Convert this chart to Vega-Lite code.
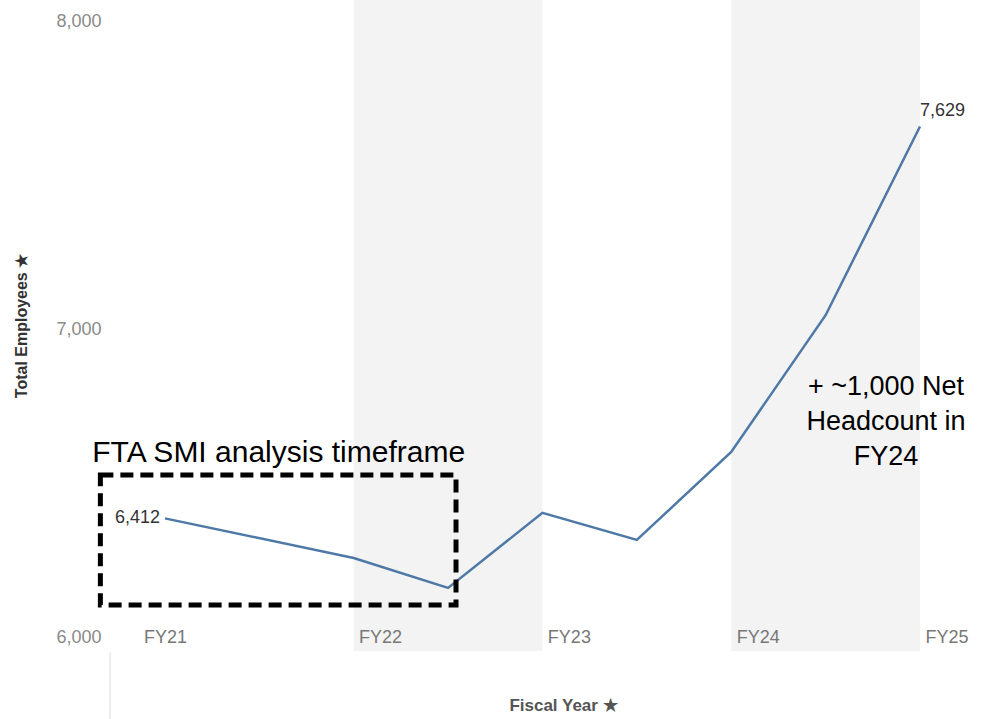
{
  "$schema": "https://vega.github.io/schema/vega-lite/v6.json",
  "width": 877,
  "height": 651,
  "autosize": {"type": "none"},
  "padding": {"left": 110, "top": 0, "right": 0, "bottom": 68},
  "background": "white",
  "config": {
    "view": {"stroke": null},
    "font": "Liberation Sans",
    "axis": {"grid": false, "domain": false, "ticks": false},
    "axisX": {
      "labelFontSize": 18, "labelColor": "#777777",
      "labelBaseline": "middle", "labelPadding": -14, "labelAlign": "center",
      "labelFlush": false, "labelOverlap": false,
      "titleFontSize": 17, "titleColor": "#555555", "titleFontWeight": "bold",
      "titlePadding": 46, "titleX": 453
    },
    "axisY": {
      "labelFontSize": 18, "labelColor": "#8a8a8a",
      "labelPadding": 9, "labelFlush": 10, "labelFlushOffset": -5, "labelOverlap": false,
      "titleFontSize": 16, "titleColor": "#333333", "titleFontWeight": "bold",
      "titlePadding": 26
    }
  },
  "datasets": {
    "headcount": [
      {"fy": 21, "employees": 6412},
      {"fy": 22, "employees": 6289},
      {"fy": 22.5, "employees": 6196},
      {"fy": 23, "employees": 6429},
      {"fy": 23.5, "employees": 6345},
      {"fy": 24, "employees": 6618},
      {"fy": 24.5, "employees": 7043},
      {"fy": 25, "employees": 7629}
    ],
    "bands": [
      {"start": 22, "end": 23},
      {"start": 24, "end": 25}
    ]
  },
  "layer": [
    {
      "data": {"name": "bands"},
      "mark": {"type": "rect", "color": "#f3f3f3"},
      "encoding": {
        "x": {
          "field": "start", "type": "quantitative",
          "scale": {"domain": [20.709, 25.355], "nice": false, "zero": false},
          "axis": {
            "values": [21, 22.14, 23.14, 24.14, 25.14],
            "labelExpr": "'FY' + floor(datum.value)",
            "title": "Fiscal Year ★",
            "zindex": 1
          }
        },
        "x2": {"field": "end"}
      }
    },
    {
      "data": {"name": "headcount"},
      "mark": {"type": "line", "color": "#4e79a7", "strokeWidth": 2.5},
      "encoding": {
        "x": {
          "field": "fy", "type": "quantitative",
          "axis": {
            "values": [21, 22.14, 23.14, 24.14, 25.14],
            "labelExpr": "'FY' + floor(datum.value)",
            "title": "Fiscal Year ★",
            "zindex": 1
          }
        },
        "y": {
          "field": "employees", "type": "quantitative",
          "scale": {"domain": [6000, 8022], "nice": false, "zero": false},
          "axis": {
            "values": [6000, 7000, 8000],
            "format": ",.0f",
            "title": "Total Employees ★"
          }
        }
      }
    },
    {
      "data": {"values": [{}]},
      "mark": {"type": "rule", "color": "#d9d9d9", "strokeWidth": 1},
      "encoding": {
        "x": {"datum": 20.709, "type": "quantitative"},
        "y": {"datum": 5995, "type": "quantitative"},
        "y2": {"datum": 5789}
      }
    },
    {
      "data": {"values": [{}]},
      "mark": {"type": "rect", "filled": false, "stroke": "black", "strokeWidth": 5, "strokeDash": [13, 7]},
      "encoding": {
        "x": {"datum": 20.658, "type": "quantitative"},
        "x2": {"datum": 22.542},
        "y": {"datum": 6546.6, "type": "quantitative"},
        "y2": {"datum": 6142.9}
      }
    },
    {
      "data": {"name": "headcount"},
      "transform": [{"filter": "datum.fy == 21"}],
      "mark": {"type": "text", "align": "right", "baseline": "middle", "dx": -5, "fontSize": 18, "color": "#333333"},
      "encoding": {
        "x": {"field": "fy", "type": "quantitative"},
        "y": {"field": "employees", "type": "quantitative"},
        "text": {"field": "employees", "type": "quantitative", "format": ","}
      }
    },
    {
      "data": {"name": "headcount"},
      "transform": [{"filter": "datum.fy == 25"}],
      "mark": {"type": "text", "align": "left", "baseline": "alphabetic", "dy": -11, "fontSize": 18, "color": "#333333"},
      "encoding": {
        "x": {"field": "fy", "type": "quantitative"},
        "y": {"field": "employees", "type": "quantitative"},
        "text": {"field": "employees", "type": "quantitative", "format": ","}
      }
    },
    {
      "data": {"values": [{}]},
      "mark": {"type": "text", "align": "left", "baseline": "alphabetic", "fontSize": 30, "color": "black", "text": "FTA SMI analysis timeframe"},
      "encoding": {
        "x": {"datum": 20.615, "type": "quantitative"},
        "y": {"datum": 6587, "type": "quantitative"}
      }
    },
    {
      "data": {"values": [{}]},
      "mark": {"type": "text", "align": "center", "baseline": "alphabetic", "fontSize": 27, "lineHeight": 35, "color": "black", "text": ["+ ~1,000 Net", "Headcount in", "FY24"]},
      "encoding": {
        "x": {"datum": 24.82, "type": "quantitative"},
        "y": {"datum": 6795, "type": "quantitative"}
      }
    }
  ]
}
